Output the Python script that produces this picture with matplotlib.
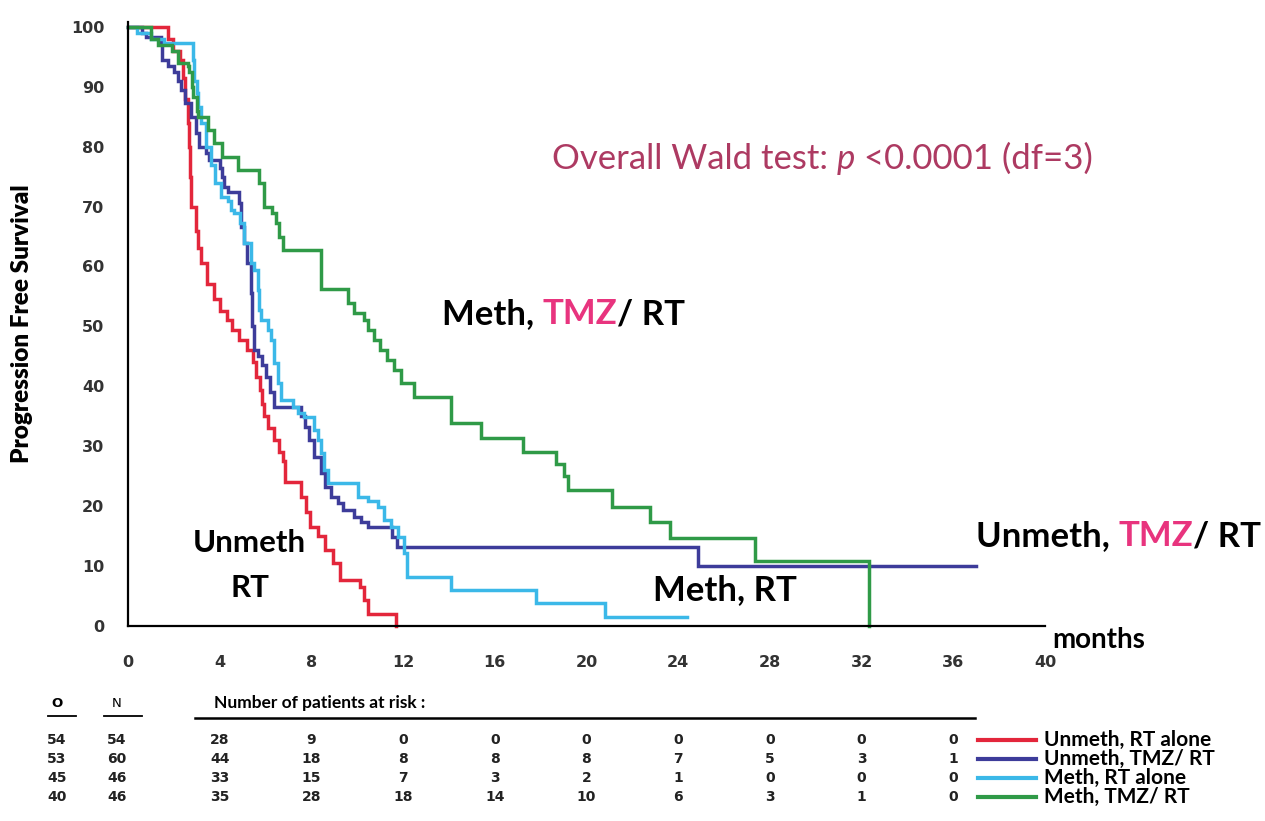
import matplotlib.pyplot as plt
from matplotlib.transforms import blended_transform_factory

# step curves: month where each step starts, survival (%)
red_t = [0, 1.74, 1.95, 2.25, 2.4, 2.5, 2.6, 2.65, 2.7, 2.75, 2.95, 3.05, 3.2, 3.45, 3.75,
         4.0, 4.3, 4.55, 4.85, 5.2, 5.45, 5.6, 5.75, 5.85, 5.95, 6.1, 6.35, 6.6, 6.75, 6.85,
         7.55, 7.75, 7.95, 8.3, 8.6, 8.95, 9.25, 10.1, 10.3, 10.45, 11.7]
red_s = [100, 98, 96, 94.5, 91.5, 88, 84, 80, 75, 70, 66, 63, 60.5, 57, 54.5,
         52.5, 51, 49.4, 47.7, 46, 44, 41.5, 39.4, 37, 35, 33, 31, 29, 27.5, 24,
         21.5, 19, 16.5, 15, 12.7, 10.5, 7.7, 6.5, 4.3, 2, 0]

blue_t = [0, 0.6, 0.8, 1.45, 1.5, 1.75, 2.0, 2.2, 2.3, 2.5, 2.75, 2.95, 3.1, 3.4, 3.55,
          4.0, 4.1, 4.2, 4.35, 4.85, 4.95, 5.05, 5.2, 5.35, 5.4, 5.5, 5.65, 5.85, 6.0, 6.2,
          6.35, 7.55, 7.7, 7.9, 8.1, 8.4, 8.6, 8.85, 9.15, 9.4, 9.85, 10.15, 10.45, 11.5,
          11.75, 24.85, 37.0]
blue_s = [100, 99, 98.3, 97.3, 94.5, 93.5, 92.5, 91, 89.5, 87.3, 85, 82.3, 80, 79, 77.8,
          76.5, 75, 73.3, 72.5, 70.6, 66.6, 64, 60.6, 55.6, 50, 46, 45, 43.5, 41.6, 39,
          36.6, 35, 33.2, 31, 28.2, 25.5, 23.2, 21.5, 20.5, 19.4, 18.2, 17.4, 16.5, 14.9,
          13.2, 10, 10]

cyan_t = [0, 0.4, 1.0, 1.57, 2.83, 2.9, 3.0, 3.05, 3.2, 3.4, 3.6, 3.8, 4.05, 4.36, 4.5,
          4.62, 4.9, 5.05, 5.36, 5.5, 5.66, 5.72, 5.8, 6.1, 6.23, 6.36, 6.54, 6.67, 7.2,
          7.41, 7.67, 8.1, 8.28, 8.41, 8.54, 8.71, 10.02, 10.45, 10.89, 11.15, 11.46,
          11.76, 12.03, 12.15, 14.07, 17.8, 20.8, 24.4]
cyan_s = [100, 99, 98, 97.3, 94.5, 91, 89, 86.6, 84, 80, 77, 74, 71.6, 71, 69.4,
          69, 67.3, 64, 60.6, 59.4, 56, 52.8, 51, 49.4, 47.7, 43.9, 40.6, 37.7, 36.6,
          35.6, 34.9, 32.7, 31, 28.9, 26, 23.9, 21.5, 20.8, 19.9, 17.7, 16.5,
          14.9, 12.2, 8.2, 6.0, 3.8, 1.5, 1.5]

green_t = [0, 1.0, 1.3, 1.9, 2.2, 2.6, 2.65, 2.8, 2.85, 3.0, 3.05, 3.5, 3.75, 4.1, 4.8,
           5.7, 5.95, 6.3, 6.45, 6.58, 6.75, 8.41, 9.59, 9.85, 10.3, 10.45, 10.75, 11.0,
           11.3, 11.6, 11.9, 12.46, 14.07, 15.38, 17.25, 18.65, 19.0, 19.2, 21.13, 22.79,
           23.66, 27.36, 32.33]
green_s = [100, 98, 97, 96, 94, 93.5, 92.5, 90, 88.3, 86, 85, 82.8, 80.6, 78.3, 76.1,
           74, 70, 69, 67.3, 65, 62.8, 56.3, 53.9, 52.2, 51, 49.4, 47.7, 46,
           44.4, 42.7, 40.6, 38.2, 33.9, 31.4, 29, 27, 25, 22.7, 19.9, 17.4,
           14.7, 10.9, 0]

group_names = ['Unmeth, RT alone', 'Unmeth, TMZ/ RT', 'Meth, RT alone', 'Meth, TMZ/ RT']
group_colors = ['#e3263b', '#3d3c9a', '#3bb8e8', '#2f9a47']
observed = [54, 53, 45, 40]
totals = [54, 60, 46, 46]
risk_months = [4, 8, 12, 16, 20, 24, 28, 32, 36]
at_risk = [[28, 9, 0, 0, 0, 0, 0, 0, 0],
           [44, 18, 8, 8, 8, 7, 5, 3, 1],
           [33, 15, 7, 3, 2, 1, 0, 0, 0],
           [35, 28, 18, 14, 10, 6, 3, 1, 0]]

W, H = 1265, 821
fig = plt.figure(figsize=(W / 100, H / 100), dpi=100)
ax = fig.add_axes([128 / W, 195 / H, (1045 - 128) / W, 604 / H])

curves = [(red_t, red_s), (blue_t, blue_s), (cyan_t, cyan_s), (green_t, green_s)]
for (t, s), c in zip(curves, group_colors):
    ax.step(t, s, where='post', color=c, lw=2.5, solid_joinstyle='miter', clip_on=False)

ax.set_xlim(0, 40)
ax.set_ylim(0, 100.8)
ax.set_xticks(range(0, 41, 4))
ax.set_yticks(range(0, 101, 10))
for side in ['top', 'right']:
    ax.spines[side].set_visible(False)
for side in ['left', 'bottom']:
    ax.spines[side].set_linewidth(1.6)
ax.tick_params(axis='x', length=0, pad=21, labelsize=11.5, labelcolor='#333333')
ax.tick_params(axis='y', length=0, pad=17, labelsize=11.5, labelcolor='#333333')
for lab in ax.get_xticklabels() + ax.get_yticklabels():
    lab.set_fontweight('bold')

ax.set_ylabel('Progression Free Survival', fontsize=17.5, fontweight='heavy',
              family='Lato')
ax.yaxis.set_label_coords(-0.104, 0.5)
ax.text(40.3, -2.3, 'months', fontsize=20, fontweight='bold', family='Lato',
        ha='left', va='center')

wald_col = '#ad3a62'
w0 = ax.text(18.5, 78, 'Overall Wald test: ', fontsize=25, color=wald_col,
             family='Lato', va='center')
w1 = ax.annotate('p', xy=(1, 0), xycoords=w0, fontsize=25, color=wald_col,
                 family='Lato', style='italic', va='bottom')
ax.annotate(' <0.0001 (df=3)', xy=(1, 0), xycoords=w1, fontsize=25,
            color=wald_col, family='Lato', va='bottom')


def two_tone(x, y, before, after, size=25):
    t0 = ax.text(x, y, before, fontsize=size, fontweight='bold', family='Lato',
                 va='center')
    t1 = ax.annotate('TMZ', xy=(1, 0), xycoords=t0, fontsize=size, fontweight='bold',
                     family='Lato', color='#e8347e', va='bottom')
    ax.annotate(after, xy=(1, 0), xycoords=t1, fontsize=size, fontweight='bold',
                family='Lato', va='bottom')


two_tone(13.7, 52, 'Meth, ', '/ RT')
two_tone(37.0, 15, 'Unmeth, ', '/ RT')
ax.text(5.3, 13.8, 'Unmeth', fontsize=22.5, fontweight='bold', family='Lato',
        ha='center', va='center')
ax.text(5.3, 6.3, 'RT', fontsize=22.5, fontweight='bold', family='Lato', ha='center',
        va='center')
ax.text(22.9, 6, 'Meth, RT', fontsize=25, fontweight='bold', family='Lato', va='center')

# number at risk table
tr = blended_transform_factory(ax.transData, fig.transFigure)
row_y = [1 - 740 / H, 1 - 759 / H, 1 - 778 / H, 1 - 797 / H]
head_y = 1 - 703 / H
fig.text(57 / W, head_y, 'O', fontsize=9.5, fontweight='bold', ha='center', va='center')
fig.text(117 / W, head_y, 'N', fontsize=9.5, ha='center', va='center')
fig.add_artist(plt.Line2D([48 / W, 76 / W], [1 - 716 / H] * 2, color='black', lw=1.3))
fig.add_artist(plt.Line2D([104 / W, 142 / W], [1 - 716 / H] * 2, color='black', lw=1.3))
fig.text(214 / W, head_y, 'Number of patients at risk :', fontsize=12.5,
         fontweight='bold', family='Lato', ha='left', va='center')
fig.add_artist(plt.Line2D([195 / W, 975 / W], [1 - 718 / H] * 2, color='black', lw=1.8))

for i in range(4):
    fig.text(57 / W, row_y[i], str(observed[i]), fontsize=10, fontweight='bold',
             ha='center', va='center', color='#222222')
    fig.text(117 / W, row_y[i], str(totals[i]), fontsize=10, fontweight='bold',
             ha='center', va='center', color='#222222')
    for m, n in zip(risk_months, at_risk[i]):
        ax.text(m, row_y[i], str(n), transform=tr, fontsize=10, fontweight='bold',
                ha='center', va='center', color='#222222', clip_on=False)
    fig.add_artist(plt.Line2D([978 / W, 1036 / W], [row_y[i]] * 2,
                              color=group_colors[i], lw=3))
    fig.text(1044 / W, row_y[i], group_names[i], fontsize=15, fontweight='bold',
             family='Lato', ha='left', va='center')

fig.savefig('out.png', dpi=100)
